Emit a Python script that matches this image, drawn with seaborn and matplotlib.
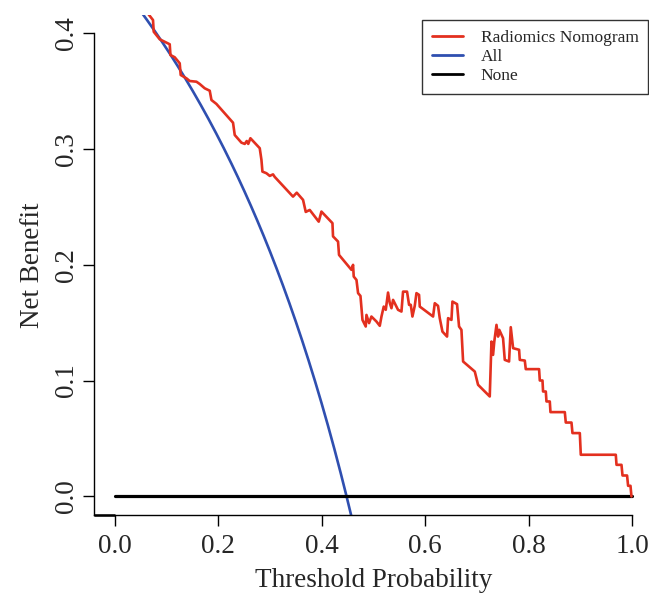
import numpy as np
import pandas as pd
import matplotlib
matplotlib.use("Agg")
import matplotlib.pyplot as plt
from matplotlib.lines import Line2D
import seaborn as sns

# Net benefit of the radiomics nomogram at each threshold probability
threshold = [0.0, 0.05, 0.074, 0.0754, 0.087, 0.0966, 0.1063, 0.1077, 0.1159, 0.1256,
             0.1275, 0.1386, 0.1449, 0.1579, 0.1643, 0.1739, 0.1836, 0.1869, 0.1965,
             0.2286, 0.2319, 0.2448, 0.2512, 0.2551, 0.258, 0.2622, 0.2802, 0.2835,
             0.2854, 0.2931, 0.2995, 0.3059, 0.3092, 0.3445, 0.3517, 0.3639, 0.3691,
             0.3768, 0.3942, 0.3994, 0.4155, 0.4207, 0.4218, 0.4315, 0.4334, 0.4574,
             0.4605, 0.4618, 0.4671, 0.4702, 0.4748, 0.4787, 0.485, 0.4864, 0.4914,
             0.496, 0.5057, 0.5121, 0.5154, 0.5198, 0.5237, 0.5281, 0.5314, 0.5347,
             0.5378, 0.5474, 0.554, 0.5571, 0.5648, 0.5687, 0.572, 0.5752, 0.5797,
             0.583, 0.588, 0.5894, 0.6151, 0.6184, 0.6247, 0.628, 0.6332, 0.6421,
             0.6441, 0.6506, 0.6525, 0.6614, 0.6653, 0.6699, 0.6731, 0.6957, 0.702,
             0.7246, 0.7279, 0.731, 0.7333, 0.7376, 0.7407, 0.743, 0.7503, 0.7536,
             0.7619, 0.7652, 0.7697, 0.7813, 0.7826, 0.7923, 0.7942, 0.8199, 0.8213,
             0.8265, 0.8276, 0.8329, 0.8342, 0.8406, 0.8419, 0.8696, 0.8715, 0.8825,
             0.8844, 0.8986, 0.9005, 0.9681, 0.9695, 0.9791, 0.9811, 0.9899, 0.9919,
             0.9965, 0.9984]
nomogram_nb = [0.448, 0.425, 0.4112, 0.4011, 0.3946, 0.3925, 0.3903, 0.381, 0.3791, 0.3739,
               0.3638, 0.3609, 0.3586, 0.358, 0.356, 0.3523, 0.3502, 0.3422, 0.3388,
               0.3226, 0.312, 0.3054, 0.3043, 0.3068, 0.3043, 0.3092, 0.3006, 0.2905,
               0.2804, 0.279, 0.2767, 0.278, 0.2758, 0.2588, 0.2622, 0.256, 0.2456,
               0.2473, 0.2372, 0.2459, 0.2383, 0.2359, 0.2245, 0.22, 0.2085, 0.1956,
               0.1999, 0.1898, 0.1869, 0.1755, 0.1731, 0.1524, 0.1467, 0.1567, 0.1496,
               0.1553, 0.151, 0.1473, 0.1553, 0.1639, 0.1611, 0.176, 0.1671, 0.1625,
               0.1697, 0.1611, 0.1596, 0.1768, 0.1768, 0.1654, 0.1654, 0.1553, 0.1645,
               0.1755, 0.174, 0.1639, 0.1553, 0.1668, 0.1645, 0.1539, 0.1423, 0.138,
               0.1539, 0.1524, 0.1682, 0.166, 0.1467, 0.1438, 0.1165, 0.1078, 0.0964,
               0.0863, 0.1337, 0.1222, 0.1335, 0.1481, 0.138, 0.1438, 0.1366, 0.1179,
               0.1165, 0.1461, 0.128, 0.1266, 0.1179, 0.1173, 0.1099, 0.1099, 0.1001,
               0.1001, 0.0906, 0.0906, 0.082, 0.082, 0.0728, 0.0728, 0.0638, 0.0638,
               0.0547, 0.0547, 0.036, 0.036, 0.0273, 0.0273, 0.0181, 0.0181, 0.0092,
               0.0092, 0.0]

# Event prevalence, which fixes the "treat all" strategy
prevalence = 0.448

labels = ["Radiomics Nomogram", "All", "None"]
colors = ["#E3301F", "#2F4FB0", "#000000"]
x_ticks = [0.0, 0.2, 0.4, 0.6, 0.8, 1.0]
y_ticks = [0.0, 0.1, 0.2, 0.3, 0.4]

sns.set_style("ticks")
plt.rcParams["font.family"] = ["Liberation Serif", "DejaVu Serif"]

W, H = 649, 593
fig = plt.figure(figsize=(W / 100, H / 100), dpi=100)
ax = fig.add_axes([94 / W, (H - 515) / H, (653 - 94) / W, (515 - 14.5) / H])

nomo = pd.DataFrame({"threshold": threshold, "net_benefit": nomogram_nb})
pt_all = np.linspace(0.0, 0.99, 400)
treat_all = pd.DataFrame({"threshold": pt_all,
                          "net_benefit": prevalence - (1 - prevalence) * pt_all / (1 - pt_all)})
treat_none = pd.DataFrame({"threshold": [0.0, 1.0], "net_benefit": [0.0, 0.0]})

sns.lineplot(data=treat_all, x="threshold", y="net_benefit", ax=ax, color=colors[1],
             lw=1.9, sort=False, estimator=None)
sns.lineplot(data=treat_none, x="threshold", y="net_benefit", ax=ax, color=colors[2],
             lw=2.3, sort=False, estimator=None)
sns.lineplot(data=nomo, x="threshold", y="net_benefit", ax=ax, color=colors[0],
             lw=1.9, sort=False, estimator=None)

ax.set_xlim(-0.04, 1.04)
ax.set_ylim(-0.016, 0.416)
ax.set_xticks(x_ticks)
ax.set_yticks(y_ticks)
ax.set_xticklabels([f"{v:.1f}" for v in x_ticks])
ax.set_yticklabels([f"{v:.1f}" for v in y_ticks], rotation=90, va="center")
ax.tick_params(axis="both", length=8, width=1.0, color="black", labelsize=19.5,
               direction="out")
ax.tick_params(axis="x", pad=6)
ax.tick_params(axis="y", pad=3)

for side in ["top", "right"]:
    ax.spines[side].set_visible(False)
ax.spines["left"].set_bounds(-0.016, 0.4)
ax.spines["bottom"].set_bounds(-0.04, 1.0)
for side in ["left", "bottom"]:
    ax.spines[side].set_linewidth(1.0)
    ax.spines[side].set_color("black")
ax.plot([-0.04, 0.0], [-0.016, -0.016], color="black", lw=1.8, clip_on=False,
        solid_capstyle="butt")

ax.set_xlabel("Threshold Probability", fontsize=19.5, labelpad=6)
ax.set_ylabel("Net Benefit", fontsize=19.5, labelpad=6)

handles = [Line2D([0], [0], color=c, lw=2.0) for c in colors]
leg = fig.legend(handles, labels, loc="upper right",
                 bbox_to_anchor=(648 / W, 1 - 20 / H), fontsize=12.5,
                 frameon=True, fancybox=False, handlelength=1.8,
                 borderpad=0.55, labelspacing=0.18, handletextpad=1.0,
                 borderaxespad=0.0)
leg.get_frame().set_edgecolor("black")
leg.get_frame().set_linewidth(1.0)
leg.set_zorder(5)

fig.savefig("out.png", dpi=100)
